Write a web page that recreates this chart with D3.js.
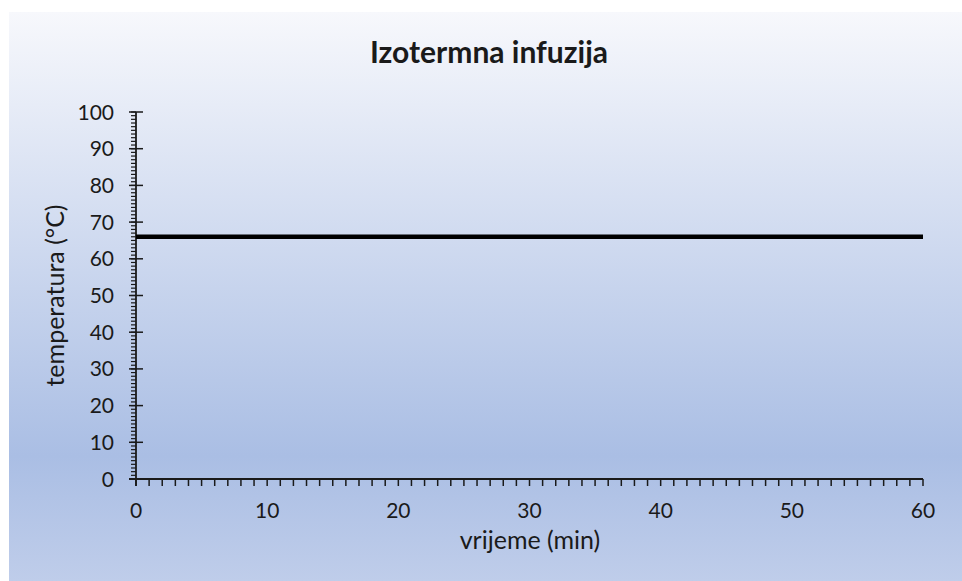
<!DOCTYPE html>
<html>
<head>
<meta charset="utf-8">
<script src="https://cdn.jsdelivr.net/npm/d3@7"></script>
<style>
  body { margin: 0; background: #fff; }
  svg text { font-family: Lato, "Open Sans", sans-serif; fill: #1a1a1a; }
</style>
</head>
<body>
<svg id="chart" width="962" height="581"></svg>
<script>
// data
var times = [0, 60];
var temps = [66, 66];
var xTicks = [0, 10, 20, 30, 40, 50, 60];
var yTicks = [0, 10, 20, 30, 40, 50, 60, 70, 80, 90, 100];
var title = "Izotermna infuzija";
var xLabel = "vrijeme (min)";
var yLabel = "temperatura (°C)";

var svg = d3.select("#chart");

var defs = svg.append("defs");
var grad = defs.append("linearGradient").attr("id", "bg")
    .attr("x1", 0).attr("y1", 0).attr("x2", 0).attr("y2", 1);
grad.append("stop").attr("offset", "0%").attr("stop-color", "#f7f8fc");
grad.append("stop").attr("offset", "78%").attr("stop-color", "#aabee4");
grad.append("stop").attr("offset", "100%").attr("stop-color", "#bfcdea");

svg.append("rect").attr("x", 9).attr("y", 12).attr("width", 953).attr("height", 569)
    .attr("fill", "url(#bg)");

var x = d3.scaleLinear().domain([0, 60]).range([136, 923]);
var y = d3.scaleLinear().domain([0, 100]).range([479, 112]);

// minor ticks
var xMinor = d3.range(0, 61, 1);
var yMinor = d3.range(0, 101, 1);

svg.append("g").selectAll("line").data(xMinor).join("line")
    .attr("x1", d => x(d)).attr("x2", d => x(d))
    .attr("y1", y(0)).attr("y2", y(0) + 7)
    .attr("stroke", "#1a1a1a").attr("stroke-width", 1.5);

svg.append("g").selectAll("line").data(yMinor).join("line")
    .attr("x1", x(0) - 5).attr("x2", x(0))
    .attr("y1", d => y(d)).attr("y2", d => y(d))
    .attr("stroke", "#1a1a1a").attr("stroke-width", 1.2);

// major y ticks cross the axis
svg.append("g").selectAll("line").data(yTicks).join("line")
    .attr("x1", x(0) - 7).attr("x2", x(0) + 7)
    .attr("y1", d => y(d)).attr("y2", d => y(d))
    .attr("stroke", "#1a1a1a").attr("stroke-width", 1.5);

// axis lines
svg.append("line").attr("x1", x(0)).attr("x2", x(0))
    .attr("y1", y(100)).attr("y2", y(0) + 7)
    .attr("stroke", "#1a1a1a").attr("stroke-width", 1.8);
svg.append("line").attr("x1", x(0) - 7).attr("x2", x(60))
    .attr("y1", y(0)).attr("y2", y(0))
    .attr("stroke", "#1a1a1a").attr("stroke-width", 1.8);

// tick labels
svg.append("g").selectAll("text").data(yTicks).join("text")
    .attr("x", 114).attr("y", d => y(d))
    .attr("dy", "0.36em").attr("text-anchor", "end")
    .attr("font-size", 21).text(d => d);

svg.append("g").selectAll("text").data(xTicks).join("text")
    .attr("x", d => x(d)).attr("y", 518)
    .attr("text-anchor", "middle")
    .attr("font-size", 21).text(d => d);

// data line
var line = d3.line().x((d, i) => x(times[i])).y(d => y(d));
svg.append("path").datum(temps)
    .attr("d", line).attr("fill", "none")
    .attr("stroke", "#000").attr("stroke-width", 4.5);

// titles
svg.append("text").attr("x", 489).attr("y", 63)
    .attr("text-anchor", "middle").attr("font-size", 30).attr("font-weight", "bold")
    .text(title);

svg.append("text").attr("x", 530).attr("y", 549)
    .attr("text-anchor", "middle").attr("font-size", 25)
    .text(xLabel);

svg.append("text")
    .attr("transform", "translate(54," + ((y(0) + y(100)) / 2) + ") rotate(-90)")
    .attr("text-anchor", "middle").attr("dominant-baseline", "central").attr("font-size", 25)
    .text(yLabel);
</script>
</body>
</html>
